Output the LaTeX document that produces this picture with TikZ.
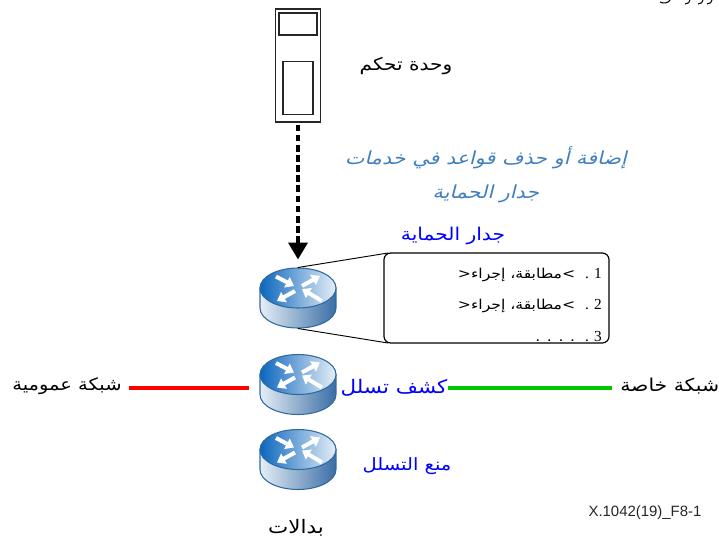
\documentclass[tikz,border=0pt]{standalone}
\usepackage{fontspec}
\usetikzlibrary{arrows.meta}
\TeXXeTstate=1
\newfontfamily\arabicfont[Script=Arabic,FakeStretch=1.15]{DejaVu Sans}
\newfontfamily\arabicslant[Script=Arabic,FakeSlant=0.25,FakeStretch=1.15]{DejaVu Sans}
\setmainfont{Liberation Serif}
\newfontfamily\figfont{Liberation Sans}
\definecolor{steeltext}{HTML}{3F7FBF}
\definecolor{routerline}{HTML}{2F6A9F}
\definecolor{routerblue}{HTML}{0A66BE}
\definecolor{routerpale}{HTML}{E6EEF6}
\definecolor{routerdark}{HTML}{3A6EA5}
\definecolor{netgreen}{HTML}{00C800}
\newcommand{\arsize}[1]{\arabicfont\fontsize{#1}{#1}\selectfont}
\tikzset{
  x=0.75pt,y=-0.75pt,
  routerbox/.style={minimum width=57pt,minimum height=45.75pt,inner sep=0pt,outer sep=0pt},
  arlabel/.style={inner sep=0pt},
  bluelabel/.style={arlabel,text=blue},
  steellabel/.style={inner sep=0pt,text=steeltext,font=\arabicslant\fontsize{13.5}{15}\selectfont},
  rulelabel/.style={inner sep=0pt,anchor=base east,font=\arsize{10.2}},
  pfeil/.style={white,line width=3pt,-{Triangle[width=8.5pt,length=6pt]}},
  houseline/.style={draw=black!85,line width=1pt},
}
\newcommand{\routerat}[3]{%
  \node[routerbox] (#1) at (#2,#3) {};
  \begin{scope}[shift={(#2,#3)}]
    \path[left color=routerpale,right color=routerdark,draw=routerline,line width=0.8pt]
      (-38,-10) -- (-38,10) arc[start angle=180,end angle=360,x radius=28.5pt,y radius=15pt] -- (38,-10) -- cycle;
    \path[left color=routerblue,right color=routerpale,draw=routerline,line width=0.8pt]
      (0,-10) ellipse[x radius=28.5pt,y radius=15pt];
    \draw[pfeil] (-22,-21.5) -- (-4,-12);
    \draw[pfeil] (4,-12) -- (22,-22);
    \draw[pfeil] (-3,-7) -- (-21,3);
    \draw[pfeil] (24,3) -- (4,-9);
  \end{scope}}
\newcommand{\ruleno}[1]{{\rmfamily\fontsize{11.5}{12}\selectfont #1\,\,.}\ \ }
\begin{document}
\begin{tikzpicture}
\useasboundingbox (0,0) rectangle (719,540);
% control unit
\node[draw=black!85,line width=1pt,minimum width=33.9pt,minimum height=84.75pt,inner sep=0pt,outer sep=0pt] (unit) at (298,65.5) {};
\node[houseline,minimum width=28.3pt,minimum height=16.7pt,inner sep=0pt] (screen) at (298,24) {};
\node[houseline,minimum width=22.7pt,minimum height=39.4pt,inner sep=0pt] (keys) at (298,88) {};
\node[arlabel,font=\arsize{13.1}] (unitlabel) at (406,66) {\beginR وحدة تحكم\endR};
% routers
\routerat{r1}{298}{298}
\routerat{r2}{298}{384.5}
\routerat{r3}{298}{459.5}
% dashed command
\draw[line width=2.8pt,dash pattern=on 5pt off 2.6pt,-{Triangle[width=14.25pt,length=12.75pt]}] ([yshift=-2pt]unit.south) -- ([yshift=6pt]r1.north);
% rules box
\node[draw=black,line width=0.9pt,rounded corners=5pt,minimum width=168.75pt,minimum height=67.5pt,inner sep=0pt,outer sep=0pt] (rules) at (496.5,298) {};
\draw[line width=0.7pt] (r1.north) -- ([xshift=3pt]rules.north west);
\draw[line width=0.7pt] (r1.south) -- ([xshift=3pt]rules.south west);
\node[rulelabel] (rule1) at (602,278) {\beginR\ruleno{1}>مطابقة، إجراء<\endR};
\node[rulelabel] (rule2) at (602,309) {\beginR\ruleno{2}>مطابقة، إجراء<\endR};
\node[rulelabel] (rule3) at (602,341) {\beginR\ruleno{3}. . . .\endR};
% labels
\node[steellabel] (action1) at (486,158) {\beginR إضافة أو حذف قواعد في خدمات\endR};
\node[steellabel] (action2) at (486,194) {\beginR جدار الحماية\endR};
\node[bluelabel,font=\arsize{13.2}] (fw) at (453,236) {\beginR جدار الحماية\endR};
\node[bluelabel,font=\arsize{14}] (ids) at (394,388) {\beginR كشف تسلل\endR};
\node[bluelabel,font=\arsize{12.7}] (ips) at (407,466) {\beginR منع التسلل\endR};
\node[arlabel,font=\arsize{14}] (sw) at (296,528) {\beginR بدالات\endR};
\node[arlabel,font=\arsize{12.7}] (pub) at (67,386) {\beginR شبكة عمومية\endR};
\node[arlabel,font=\arsize{13.3},anchor=west] (priv) at (620,386) {\beginR شبكة خاصة\endR};
\node[inner sep=0pt,font=\figfont\fontsize{11.2}{12}\selectfont,text=black!85] (figid) at (645,513) {X.1042(19)\_F8-1};
% connectors
\coordinate (redstart) at (129,388);
\coordinate (redend) at (249,388);
\coordinate (greenstart) at (448,388);
\coordinate (greenend) at (612,388);
\draw[red,line width=3pt] (redstart) -- (redend);
\draw[netgreen,line width=3pt] (greenstart) -- (greenend);
% clipped text remnants
\draw[line width=0.8pt] (660,2) .. controls (664,4) and (668,3) .. (670,0);
\draw[line width=0.8pt] (685,4) .. controls (688,4) and (690,2) .. (690,0);
\draw[line width=0.8pt] (698,4) .. controls (701,4) and (703,2) .. (703,0);
\draw[line width=0.8pt] (707,4) .. controls (710,4) and (712,2) .. (712,0);
\end{tikzpicture}
\end{document}
